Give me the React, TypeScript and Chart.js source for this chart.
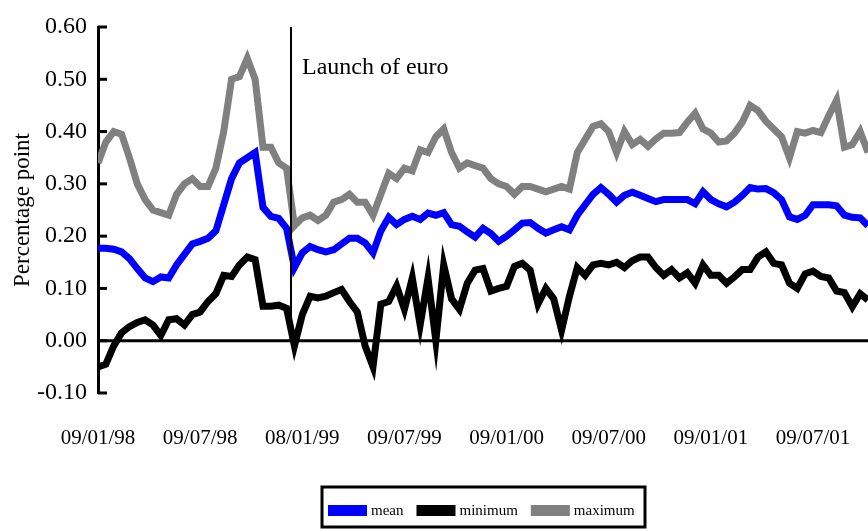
import { useEffect, useRef } from "react";
import { Chart, registerables } from "chart.js";

Chart.register(...registerables);

// x positions: weeks since 09/01/98, sampled every two weeks
const weeks: number[] = Array.from({ length: 99 }, (_, i) => i * 2);

const tickWeeks = [0, 26, 52, 78, 104, 130, 156, 182];
const tickLabels = ["09/01/98", "09/07/98", "08/01/99", "09/07/99", "09/01/00", "09/07/00", "09/01/01", "09/07/01"];

const launchWeek = 49;
const launchLabel = "Launch of euro";

const meanSeries = [
  0.177, 0.177, 0.175, 0.17, 0.157, 0.138, 0.12, 0.113, 0.122, 0.12,
  0.145, 0.165, 0.185, 0.19, 0.196, 0.21, 0.26, 0.31, 0.34, 0.35,
  0.36, 0.255, 0.238, 0.234, 0.215, 0.14, 0.168, 0.18, 0.174, 0.17,
  0.174, 0.185, 0.196, 0.196, 0.187, 0.168, 0.21, 0.236, 0.222, 0.232,
  0.238, 0.232, 0.244, 0.24, 0.245, 0.222, 0.219, 0.208, 0.198, 0.215,
  0.205, 0.19, 0.2, 0.212, 0.225, 0.226, 0.215, 0.206, 0.212, 0.218,
  0.212, 0.24, 0.26, 0.28, 0.293, 0.28, 0.265, 0.278, 0.284, 0.278,
  0.272, 0.266, 0.27, 0.27, 0.27, 0.27, 0.262, 0.285, 0.27, 0.262,
  0.256, 0.265, 0.278, 0.293, 0.29, 0.291, 0.283, 0.27, 0.237, 0.232,
  0.24, 0.26, 0.26, 0.26, 0.258, 0.24, 0.236, 0.235, 0.22,
];

const minSeries = [
  -0.05, -0.045, -0.01, 0.015, 0.027, 0.035, 0.04, 0.03, 0.01, 0.04,
  0.042, 0.03, 0.05, 0.055, 0.075, 0.09, 0.125, 0.123, 0.145, 0.16,
  0.155, 0.066, 0.066, 0.068, 0.062, -0.01, 0.05, 0.085, 0.082, 0.085,
  0.092, 0.098, 0.075, 0.055, -0.01, -0.05, 0.07, 0.075, 0.105, 0.06,
  0.12, 0.03, 0.12, 0.0, 0.145, 0.08, 0.06, 0.11, 0.135, 0.138,
  0.095, 0.1, 0.104, 0.142, 0.148, 0.135, 0.07, 0.1, 0.08, 0.02,
  0.085, 0.14, 0.125, 0.145, 0.148, 0.145, 0.15, 0.14, 0.153, 0.16,
  0.16, 0.14, 0.125, 0.136, 0.12, 0.13, 0.11, 0.145, 0.125, 0.125,
  0.11, 0.122, 0.136, 0.136, 0.16, 0.17, 0.148, 0.145, 0.11, 0.1,
  0.128, 0.133, 0.123, 0.12, 0.095, 0.092, 0.065, 0.09, 0.078,
];

const maxSeries = [
  0.34, 0.38, 0.4, 0.395, 0.35, 0.3, 0.27, 0.25, 0.245, 0.24,
  0.28, 0.3, 0.31, 0.295, 0.295, 0.33, 0.4, 0.5, 0.505, 0.54,
  0.5, 0.37, 0.37, 0.34, 0.33, 0.22, 0.235, 0.24, 0.23, 0.24,
  0.265, 0.27, 0.28, 0.265, 0.265, 0.24, 0.28, 0.32, 0.31, 0.33,
  0.325, 0.365, 0.36, 0.39, 0.405, 0.36, 0.33, 0.34, 0.335, 0.33,
  0.31, 0.3, 0.295, 0.28, 0.295, 0.295, 0.29, 0.285, 0.29, 0.295,
  0.29, 0.36, 0.385, 0.41, 0.415, 0.4, 0.36, 0.4, 0.375, 0.385,
  0.372, 0.386, 0.397, 0.397, 0.398, 0.418, 0.435, 0.405, 0.397, 0.38,
  0.382, 0.397, 0.418, 0.45, 0.44, 0.42, 0.405, 0.39, 0.35, 0.4,
  0.397, 0.402, 0.398, 0.43, 0.46, 0.37, 0.375, 0.4, 0.36,
];

const seriesNames = ["mean", "minimum", "maximum"];
const seriesColors = ["#0000ff", "#000000", "#808080"];

const yTitle = "Percentage point";
const FONT = '"Liberation Serif", "Times New Roman", serif';

const decor = {
  id: "decor",
  afterDatasetsDraw(chart: any) {
    const { ctx, chartArea: ca, scales } = chart;
    const x = scales.x;
    const y = scales.y;
    ctx.save();
    ctx.strokeStyle = "#000";
    ctx.lineCap = "butt";
    // zero line
    const y0 = y.getPixelForValue(0);
    ctx.lineWidth = 3;
    ctx.beginPath();
    ctx.moveTo(ca.left, y0);
    ctx.lineTo(ca.right, y0);
    ctx.stroke();
    // inward tick marks
    y.ticks.forEach((t: any) => {
      const py = y.getPixelForValue(t.value);
      ctx.beginPath();
      ctx.moveTo(ca.left, py);
      ctx.lineTo(ca.left + 9, py);
      ctx.stroke();
    });
    // launch line
    const lx = Math.round(x.getPixelForValue(launchWeek));
    ctx.lineWidth = 2;
    ctx.beginPath();
    ctx.moveTo(lx, ca.top);
    ctx.lineTo(lx, y0);
    ctx.stroke();
    ctx.fillStyle = "#000";
    ctx.font = "24px " + FONT;
    ctx.textAlign = "left";
    ctx.textBaseline = "alphabetic";
    ctx.fillText(launchLabel, lx + 11, y.getPixelForValue(0.51));

    // legend
    const boxL = 322, boxT = 487, boxR = 645, boxB = 527;
    ctx.lineWidth = 3;
    ctx.strokeRect(boxL, boxT, boxR - boxL, boxB - boxT);
    ctx.font = "15px " + FONT;
    ctx.textBaseline = "alphabetic";
    let cx = 328;
    chart.data.datasets.forEach((ds: any) => {
      ctx.fillStyle = ds.borderColor;
      ctx.fillRect(cx, 505, 39, 11);
      cx += 43;
      ctx.fillStyle = "#000";
      ctx.fillText(ds.label, cx, 515);
      cx += ctx.measureText(ds.label).width + 13;
    });
    ctx.restore();
  },
};

export default function App() {
  const ref = useRef<HTMLCanvasElement | null>(null);
  useEffect(() => {
    if (!ref.current) return;
    const all = [meanSeries, minSeries, maxSeries];
    const chart = new Chart(ref.current, {
      type: "line",
      data: {
        datasets: all.map((s, k) => ({
          label: seriesNames[k],
          data: s.map((v, i) => ({ x: weeks[i], y: v })),
          borderColor: seriesColors[k],
          backgroundColor: seriesColors[k],
          borderWidth: 7,
          pointRadius: 0,
          tension: 0,
          order: k === 2 ? 3 : k === 0 ? 2 : 1,
        })),
      },
      options: {
        responsive: false,
        animation: false,
        devicePixelRatio: 1,
        layout: { autoPadding: false, padding: { top: 27, right: 0, bottom: 0, left: 0 } },
        plugins: { legend: { display: false }, tooltip: { enabled: false } },
        scales: {
          x: {
            type: "linear",
            min: 0,
            max: 196,
            grid: { display: false, drawTicks: false },
            border: { display: false },
            afterBuildTicks: (s: any) => {
              s.ticks = tickWeeks.map((v) => ({ value: v }));
            },
            afterFit: (s: any) => {
              s.height = 136;
              s.paddingLeft = 0;
              s.paddingRight = 0;
            },
            ticks: {
              autoSkip: false,
              maxRotation: 0,
              padding: 33,
              color: "#000",
              font: { family: FONT, size: 21 },
              callback: (v: any) => tickLabels[tickWeeks.indexOf(Number(v))],
            },
          },
          y: {
            min: -0.1,
            max: 0.6,
            grid: { display: false, drawTicks: false },
            border: { display: true, color: "#000", width: 3 },
            afterFit: (s: any) => {
              s.width = 98;
              s.paddingTop = 0;
              s.paddingBottom = 0;
            },
            ticks: {
              stepSize: 0.1,
              padding: 11,
              color: "#000",
              font: { family: FONT, size: 24 },
              callback: (v: any) => {
                const n = Math.round(Number(v) * 100) / 100;
                return (Math.abs(n) < 1e-9 ? 0 : n).toFixed(2);
              },
            },
            title: {
              display: true,
              text: yTitle,
              color: "#000",
              padding: { top: 9, bottom: 0 },
              font: { family: FONT, size: 23 },
            },
          },
        },
      },
      plugins: [decor],
    });
    return () => chart.destroy();
  }, []);
  return (
    <div style={{ position: "fixed", left: 0, top: 0, width: 868, height: 529, background: "#fff" }}>
      <canvas ref={ref} width={868} height={529} style={{ display: "block" }} />
    </div>
  );
}
